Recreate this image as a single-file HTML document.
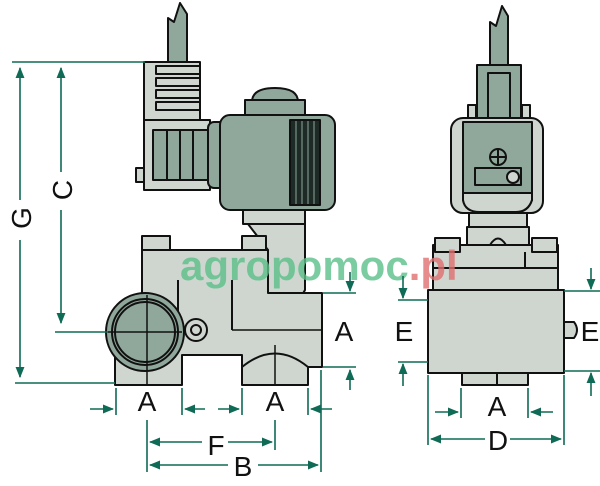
<!DOCTYPE html>
<html><head><style>body{margin:0;background:#fff}svg{display:block}</style></head><body>
<svg width="600" height="486" viewBox="0 0 600 486" xmlns="http://www.w3.org/2000/svg">
<defs>
<marker id="ar" viewBox="0 0 10 10" refX="9" refY="5" markerWidth="7" markerHeight="7" orient="auto-start-reverse"><path d="M0,1 L10,5 L0,9 z" fill="#0f6b55"/></marker>
</defs>
<g stroke="#111" stroke-width="2" stroke-linejoin="round">
<!-- LEFT VIEW -->
<path d="M168,62 L168,18 L174,22 L180,3 L187,14 L187,62 Z" fill="#8fa89b"/>
<rect x="144" y="62" width="56" height="58" fill="#cfd6d0"/>
<g fill="#cfd6d0"><rect x="156" y="66" width="44" height="8"/><rect x="156" y="78" width="44" height="8"/><rect x="156" y="90" width="44" height="8"/><rect x="156" y="102" width="44" height="8"/></g>
<rect x="144" y="120" width="66" height="70" fill="#cfd6d0"/>
<rect x="136" y="168" width="8" height="14" fill="#cfd6d0"/>
<rect x="153" y="130" width="55" height="50" fill="#8fa89b"/>
<line x1="167" y1="130" x2="167" y2="180"/><line x1="180" y1="130" x2="180" y2="180"/><line x1="193" y1="130" x2="193" y2="180"/>
<rect x="208" y="122" width="20" height="66" rx="6" fill="#8fa89b"/>
<path d="M252,102 Q252,88 275,88 Q298,88 298,102 Z" fill="#8fa89b"/>
<rect x="245" y="100" width="60" height="16" fill="#8fa89b"/>
<rect x="220" y="115" width="115" height="95" rx="10" fill="#8fa89b"/>
<rect x="290" y="120" width="30" height="85" fill="#1d2a25"/>
<g stroke="#8fa89b" stroke-width="1"><line x1="296" y1="121" x2="296" y2="204"/><line x1="302" y1="121" x2="302" y2="204"/><line x1="308" y1="121" x2="308" y2="204"/><line x1="314" y1="121" x2="314" y2="204"/></g>
<rect x="243" y="210" width="62" height="14" fill="#cfd6d0"/>
<path d="M248,224 L305,224 L305,290 Q295,310 268,313 L268,250 Z" fill="#cfd6d0"/>
<path d="M142,250 L268,250 L268,293 L322,293 L322,367 L308,367 L308,385 L242,385 L242,355 L182,355 L182,385 L115,385 L115,345 L142,345 Z" fill="#cfd6d0"/>
<rect x="142" y="236" width="28" height="14" fill="#cfd6d0"/>
<rect x="242" y="236" width="24" height="14" fill="#cfd6d0"/>
<line x1="178" y1="280" x2="178" y2="330"/><line x1="232" y1="280" x2="232" y2="330"/>
<path d="M242,367 Q275,340 308,367" fill="none"/>
<line x1="232" y1="330" x2="322" y2="330" stroke-width="1.5"/>
<circle cx="196" cy="330" r="11" fill="#cfd6d0"/><circle cx="196" cy="330" r="5" fill="#cfd6d0"/>
<circle cx="145" cy="332" r="39" fill="#8fa89b"/>
<circle cx="145" cy="332" r="33" fill="none"/><circle cx="145" cy="332" r="30" fill="#8fa89b"/>
<line x1="108" y1="332" x2="182" y2="332" stroke-width="1.5"/><line x1="147" y1="295" x2="147" y2="385" stroke-width="1.5"/>
<line x1="275" y1="345" x2="275" y2="385" stroke-width="1.5"/>
<!-- RIGHT VIEW -->
<path d="M490,65 L490,22 L496,26 L502,6 L508,16 L508,65 Z" fill="#8fa89b"/>
<rect x="477" y="65" width="44" height="55" fill="#8fa89b"/>
<rect x="488" y="73" width="22" height="47" fill="#8fa89b"/>
<rect x="468" y="105" width="8" height="15" fill="#cfd6d0"/><rect x="522" y="105" width="8" height="15" fill="#cfd6d0"/>
<rect x="451" y="118" width="92" height="95" rx="12" fill="#cfd6d0"/>
<path d="M463,122 L532,122 L532,200 Q528,212 516,212 L480,212 Q465,212 463,200 Z" fill="#8fa89b"/>
<path d="M463,193 L532,193 L532,200 Q528,212 516,212 L480,212 Q465,212 463,200 Z" fill="#cfd6d0"/>
<circle cx="498" cy="157" r="8" fill="none"/><line x1="490" y1="157" x2="506" y2="157"/><line x1="498" y1="149" x2="498" y2="165"/>
<rect x="475" y="168" width="46" height="17" fill="#8fa89b"/><circle cx="513" cy="177" r="6" fill="#cfd6d0"/>
<rect x="469" y="213" width="58" height="14" fill="#cfd6d0"/>
<rect x="467" y="227" width="62" height="18" fill="#cfd6d0"/>
<path d="M490,245 Q498,232 506,245" fill="#cfd6d0"/>
<rect x="433" y="245" width="125" height="45" fill="#cfd6d0"/>
<rect x="435" y="238" width="25" height="14" fill="#cfd6d0"/><rect x="532" y="238" width="25" height="14" fill="#cfd6d0"/>
<line x1="433" y1="268" x2="558" y2="268"/><line x1="525" y1="252" x2="525" y2="268"/>
<path d="M462,373 L528,373 L528,385 L462,385 Z" fill="#cfd6d0"/><line x1="497" y1="373" x2="497" y2="385"/>
<path d="M562,322 L574,322 Q580,330 574,338 L562,338 Z" fill="#cfd6d0"/>
<rect x="428" y="290" width="136" height="83" fill="#cfd6d0"/>
</g>
<!-- watermark -->
<text x="180" y="280" font-family="Liberation Sans, sans-serif" font-weight="bold" font-size="42" fill="#5cc08a" opacity="0.8">agropomoc<tspan fill="#e07070">.pl</tspan></text>
<!-- dimensions -->
<g stroke="#0f6b55" stroke-width="1.6" fill="none">
<line x1="12" y1="62" x2="145" y2="62"/><line x1="55" y1="332" x2="108" y2="332"/><line x1="15" y1="383" x2="115" y2="383"/>
<line x1="20" y1="68" x2="20" y2="200" marker-start="url(#ar)"/><line x1="20" y1="240" x2="20" y2="377" marker-end="url(#ar)"/>
<line x1="61" y1="68" x2="61" y2="172" marker-start="url(#ar)"/><line x1="61" y1="210" x2="61" y2="323" marker-end="url(#ar)"/>
<line x1="323" y1="293" x2="356" y2="293"/><line x1="323" y1="367" x2="356" y2="367"/>
<line x1="350" y1="272" x2="350" y2="291" marker-end="url(#ar)"/><line x1="350" y1="390" x2="350" y2="370" marker-end="url(#ar)"/>
<line x1="116" y1="388" x2="116" y2="415"/><line x1="182" y1="388" x2="182" y2="415"/><line x1="242" y1="388" x2="242" y2="415"/><line x1="308" y1="388" x2="308" y2="415"/><line x1="321" y1="370" x2="321" y2="472"/>
<line x1="90" y1="409" x2="113" y2="409" marker-end="url(#ar)"/><line x1="205" y1="409" x2="185" y2="409" marker-end="url(#ar)"/>
<line x1="218" y1="409" x2="239" y2="409" marker-end="url(#ar)"/><line x1="332" y1="409" x2="311" y2="409" marker-end="url(#ar)"/>
<line x1="147" y1="420" x2="147" y2="472"/><line x1="275" y1="420" x2="275" y2="450"/>
<line x1="150" y1="442" x2="202" y2="442" marker-start="url(#ar)"/><line x1="228" y1="442" x2="272" y2="442" marker-end="url(#ar)"/>
<line x1="150" y1="465" x2="228" y2="465" marker-start="url(#ar)"/><line x1="258" y1="465" x2="318" y2="465" marker-end="url(#ar)"/>
<line x1="398" y1="300" x2="428" y2="300"/><line x1="398" y1="362" x2="428" y2="362"/>
<line x1="403" y1="276" x2="403" y2="298" marker-end="url(#ar)"/><line x1="403" y1="386" x2="403" y2="364" marker-end="url(#ar)"/>
<line x1="564" y1="291" x2="600" y2="291"/><line x1="564" y1="371" x2="600" y2="371"/>
<line x1="591" y1="268" x2="591" y2="289" marker-end="url(#ar)"/><line x1="591" y1="396" x2="591" y2="373" marker-end="url(#ar)"/>
<line x1="428" y1="375" x2="428" y2="445"/><line x1="564" y1="375" x2="564" y2="445"/><line x1="461" y1="388" x2="461" y2="418"/><line x1="528" y1="388" x2="528" y2="418"/>
<line x1="435" y1="412" x2="458" y2="412" marker-end="url(#ar)"/><line x1="553" y1="412" x2="531" y2="412" marker-end="url(#ar)"/>
<line x1="431" y1="439" x2="485" y2="439" marker-start="url(#ar)"/><line x1="510" y1="439" x2="561" y2="439" marker-end="url(#ar)"/>
</g>
<g font-family="Liberation Sans, sans-serif" font-size="28" fill="#111" text-anchor="middle">
<text transform="translate(31,218) rotate(-90)">G</text>
<text transform="translate(72,190) rotate(-90)">C</text>
<text x="344" y="341">A</text>
<text x="147" y="411">A</text><text x="275" y="411">A</text>
<text x="216" y="455">F</text><text x="243" y="476">B</text>
<text x="404" y="341">E</text><text x="590" y="341">E</text>
<text x="497" y="416">A</text><text x="498" y="450">D</text>
</g>
</svg>
</body></html>
